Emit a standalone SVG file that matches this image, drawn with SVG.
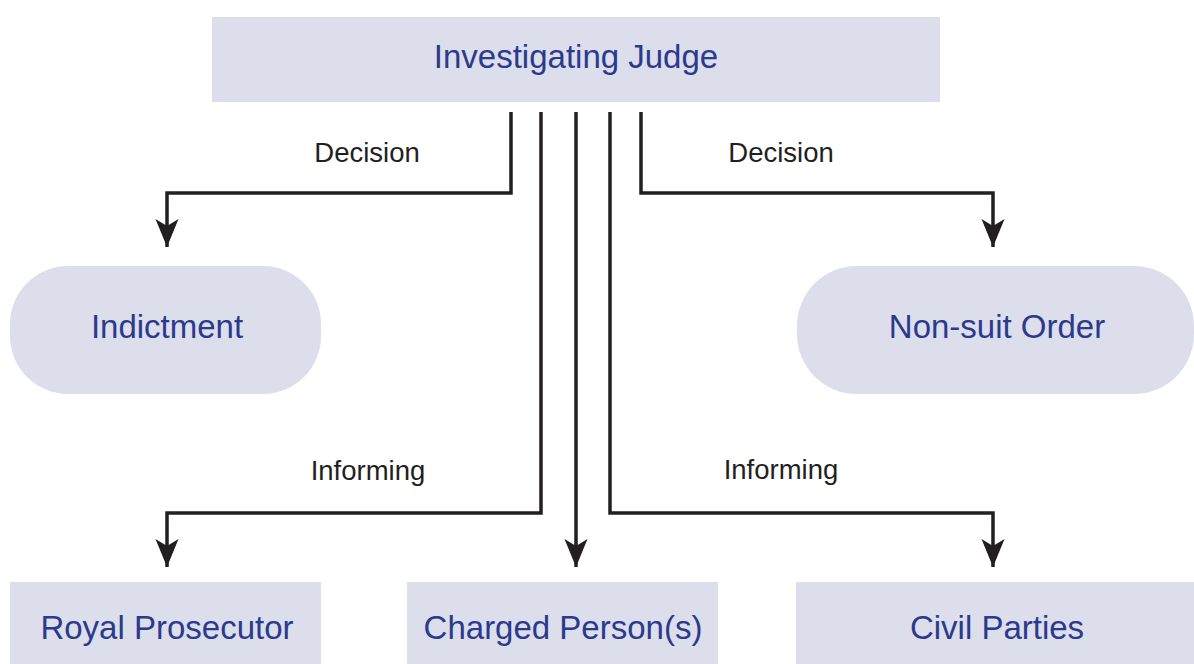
<svg xmlns="http://www.w3.org/2000/svg" width="1194" height="664" viewBox="0 0 1194 664">
<style>
.node{fill:#dcdeeb}
.nl{font-family:"Liberation Sans",Arial,sans-serif;font-size:33px;fill:#2b3a8c;text-anchor:middle;dominant-baseline:central}
.el{font-family:"Liberation Sans",Arial,sans-serif;font-size:27.5px;fill:#231f20;text-anchor:middle}
.c{fill:none;stroke:#231f20;stroke-width:3.5;stroke-linejoin:miter}
</style>
<defs>
<marker id="ah" markerUnits="userSpaceOnUse" markerWidth="34" markerHeight="30" viewBox="-30 -15 34 30" refX="0" refY="0" orient="auto">
<path d="M0,0 L-28,-11.5 L-21,0 L-28,11.5 Z" fill="#231f20"/>
</marker>
</defs>
<rect width="1194" height="664" fill="#ffffff"/>
<g id="judge"><rect class="node" x="212" y="17" width="728" height="85"/><text class="nl" x="576" y="56">Investigating Judge</text></g>
<g id="indictment"><rect class="node" x="10" y="266" width="311" height="128" rx="58" ry="58"/><text class="nl" x="167" y="326">Indictment</text></g>
<g id="nonsuit"><rect class="node" x="797" y="266" width="397" height="128" rx="60" ry="60"/><text class="nl" x="997" y="326">Non-suit Order</text></g>
<g id="prosecutor"><rect class="node" x="10" y="582" width="311" height="82"/><text class="nl" x="167" y="627">Royal Prosecutor</text></g>
<g id="charged"><rect class="node" x="407" y="582" width="311" height="82"/><text class="nl" x="563" y="627">Charged Person(s)</text></g>
<g id="civil"><rect class="node" x="796" y="582" width="398" height="82"/><text class="nl" x="997" y="627">Civil Parties</text></g>
<g id="connectors">
<path class="c" d="M511,112 V193 H167 V247" marker-end="url(#ah)"/>
<path class="c" d="M641,112 V193 H993 V247" marker-end="url(#ah)"/>
<path class="c" d="M541,112 V513 H167 V567" marker-end="url(#ah)"/>
<path class="c" d="M576,112 V567" marker-end="url(#ah)"/>
<path class="c" d="M610,112 V513 H993 V567" marker-end="url(#ah)"/>
<text class="el" x="367" y="162">Decision</text>
<text class="el" x="781" y="162">Decision</text>
<text class="el" x="368" y="480">Informing</text>
<text class="el" x="781" y="479">Informing</text>
</g>
</svg>
